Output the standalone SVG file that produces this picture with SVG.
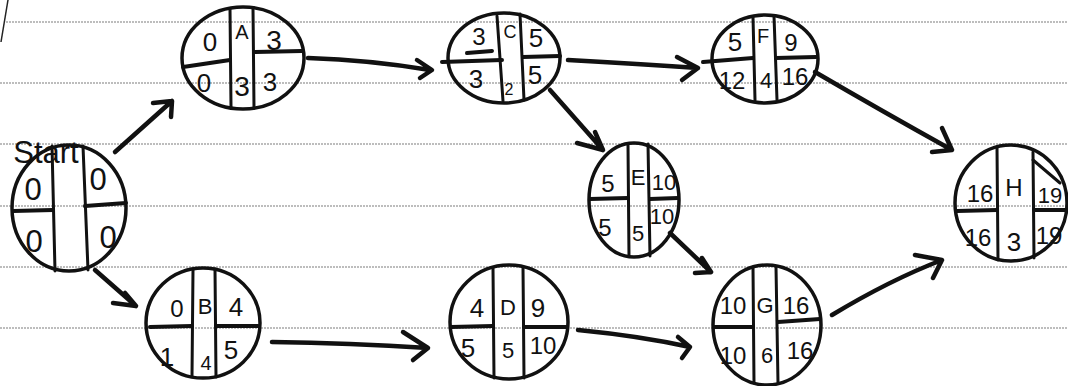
<svg xmlns="http://www.w3.org/2000/svg" width="1068" height="386" viewBox="0 0 1068 386">
<style>
.rule{stroke:#a8a8a8;stroke-width:1.6;stroke-dasharray:2 1}
.nd{fill:none;stroke:#111;stroke-width:3.5}
.dv{stroke:#111;stroke-width:3;stroke-linecap:round;fill:none}
.hz{stroke:#111;stroke-width:4;stroke-linecap:round}
.t{font-family:"Liberation Sans",Arial,sans-serif;fill:#111;text-anchor:middle;dominant-baseline:central}
.ar{fill:none;stroke:#111;stroke-width:4.5;stroke-linecap:round;stroke-linejoin:round}
</style>
<rect width="1068" height="386" fill="#fff"/>
<g id="paper">
<line class="rule" x1="6" y1="22" x2="1068" y2="22"/>
<line class="rule" x1="0" y1="83" x2="1068" y2="83"/>
<line class="rule" x1="0" y1="144" x2="1068" y2="144"/>
<line class="rule" x1="0" y1="206" x2="1068" y2="206"/>
<line class="rule" x1="0" y1="267" x2="1068" y2="267"/>
<line class="rule" x1="0" y1="328" x2="1068" y2="328"/>
<line x1="8" y1="0" x2="1" y2="42" stroke="#222" stroke-width="1.5"/>
</g>
<g id="connectors">
<path class="ar" d="M115,152 L172,101 M153,103 L172,101 L171,117"/>
<path class="ar" d="M95,270 L136,306 M113,303 L136,306 L125,293"/>
<path class="ar" d="M308,58 Q370,60 430,70 M417,60 L432,70 L420,78"/>
<path class="ar" d="M568,60 Q640,64 698,68 M677,57 L698,68 L682,80"/>
<path class="ar" d="M550,90 L603,150 M595,132 L603,150 L577,143"/>
<path class="ar" d="M815,72 Q880,110 952,150 M942,128 L952,150 L932,152"/>
<path class="ar" d="M670,233 L711,272 M702,258 L711,272 L695,273"/>
<path class="ar" d="M272,342 Q350,343 428,348 M403,332 L428,348 L413,360"/>
<path class="ar" d="M578,330 Q640,336 690,347 M678,337 L690,347 L682,358"/>
<path class="ar" d="M832,315 Q890,280 942,260 M915,255 L942,260 L933,278"/>
</g>
<g id="label-start">
<text class="t" x="46" y="152" font-size="31">Start</text>
</g>
<g id="node-start">
<ellipse class="nd" cx="69" cy="208" rx="57" ry="63"/>
<line class="dv" x1="52" y1="146" x2="55" y2="271"/>
<line class="dv" x1="83" y1="146" x2="88" y2="270"/>
<line class="hz" x1="13" y1="211" x2="53" y2="210"/>
<line class="hz" x1="85" y1="206" x2="126" y2="203"/>
<text class="t" x="33" y="189" font-size="31">0</text>
<text class="t" x="98" y="179" font-size="31">0</text>
<text class="t" x="34" y="241" font-size="31">0</text>
<text class="t" x="108" y="237" font-size="31">0</text>
</g>
<g id="node-A">
<ellipse class="nd" cx="243" cy="58" rx="61" ry="51"/>
<line class="dv" x1="230" y1="9" x2="231" y2="107"/>
<line class="dv" x1="253" y1="8" x2="254" y2="108"/>
<line class="hz" x1="183" y1="67" x2="230" y2="60"/>
<line class="hz" x1="255" y1="52" x2="302" y2="51"/>
<text class="t" x="210" y="42" font-size="26">0</text>
<text class="t" x="242" y="32" font-size="20">A</text>
<text class="t" x="274" y="40" font-size="28">3</text>
<text class="t" x="204" y="83" font-size="26">0</text>
<text class="t" x="242" y="86" font-size="28">3</text>
<text class="t" x="270" y="82" font-size="26">3</text>
</g>
<g id="node-B">
<ellipse class="nd" cx="203" cy="323" rx="57" ry="55"/>
<line class="dv" x1="193" y1="270" x2="192" y2="376"/>
<line class="dv" x1="215" y1="269" x2="216" y2="377"/>
<line class="hz" x1="150" y1="327" x2="192" y2="326"/>
<line class="hz" x1="216" y1="326" x2="258" y2="326"/>
<text class="t" x="177" y="308" font-size="24">0</text>
<text class="t" x="205" y="306" font-size="22">B</text>
<text class="t" x="236" y="307" font-size="26">4</text>
<text class="t" x="167" y="357" font-size="26">1</text>
<text class="t" x="206" y="363" font-size="20">4</text>
<text class="t" x="231" y="350" font-size="26">5</text>
</g>
<g id="node-C">
<ellipse class="nd" cx="504" cy="58" rx="56" ry="45"/>
<line class="dv" x1="497" y1="16" x2="503" y2="101"/>
<line class="dv" x1="520" y1="14" x2="524" y2="100"/>
<line class="hz" x1="442" y1="62" x2="502" y2="60"/>
<line class="hz" x1="523" y1="57" x2="560" y2="56"/>
<line class="hz" x1="467" y1="53" x2="492" y2="51"/>
<text class="t" x="479" y="36" font-size="24">3</text>
<text class="t" x="510" y="32" font-size="18">C</text>
<text class="t" x="536" y="38" font-size="26">5</text>
<text class="t" x="476" y="79" font-size="26">3</text>
<text class="t" x="509" y="89" font-size="16">2</text>
<text class="t" x="535" y="75" font-size="26">5</text>
</g>
<g id="node-F">
<ellipse class="nd" cx="765" cy="59" rx="53" ry="44"/>
<line class="dv" x1="753" y1="17" x2="755" y2="100"/>
<line class="dv" x1="774" y1="16" x2="777" y2="100"/>
<line class="hz" x1="703" y1="62" x2="753" y2="58"/>
<line class="hz" x1="776" y1="58" x2="816" y2="57"/>
<text class="t" x="735" y="42" font-size="26">5</text>
<text class="t" x="763" y="36" font-size="20">F</text>
<text class="t" x="791" y="42" font-size="24">9</text>
<text class="t" x="732" y="80" font-size="24">12</text>
<text class="t" x="766" y="80" font-size="22">4</text>
<text class="t" x="795" y="76" font-size="24">16</text>
</g>
<g id="node-E">
<ellipse class="nd" cx="634" cy="200" rx="45" ry="57"/>
<line class="dv" x1="628" y1="145" x2="629" y2="256"/>
<line class="dv" x1="648" y1="144" x2="650" y2="256"/>
<line class="hz" x1="590" y1="199" x2="628" y2="198"/>
<line class="hz" x1="650" y1="199" x2="678" y2="198"/>
<text class="t" x="608" y="183" font-size="24">5</text>
<text class="t" x="638" y="177" font-size="22">E</text>
<text class="t" x="664" y="182" font-size="22">10</text>
<text class="t" x="605" y="227" font-size="24">5</text>
<text class="t" x="638" y="233" font-size="22">5</text>
<text class="t" x="662" y="216" font-size="22">10</text>
</g>
<g id="node-D">
<ellipse class="nd" cx="509" cy="322" rx="59" ry="57"/>
<line class="dv" x1="493" y1="268" x2="494" y2="378"/>
<line class="dv" x1="523" y1="267" x2="524" y2="378"/>
<line class="hz" x1="451" y1="327" x2="493" y2="326"/>
<line class="hz" x1="524" y1="327" x2="567" y2="327"/>
<text class="t" x="477" y="308" font-size="26">4</text>
<text class="t" x="508" y="307" font-size="22">D</text>
<text class="t" x="538" y="308" font-size="26">9</text>
<text class="t" x="468" y="348" font-size="26">5</text>
<text class="t" x="508" y="350" font-size="22">5</text>
<text class="t" x="543" y="345" font-size="24">10</text>
</g>
<g id="node-G">
<ellipse class="nd" cx="767" cy="325" rx="54" ry="60"/>
<line class="dv" x1="753" y1="267" x2="754" y2="383"/>
<line class="dv" x1="776" y1="267" x2="778" y2="383"/>
<line class="hz" x1="714" y1="327" x2="753" y2="327"/>
<line class="hz" x1="778" y1="322" x2="820" y2="319"/>
<text class="t" x="733" y="305" font-size="24">10</text>
<text class="t" x="765" y="305" font-size="22">G</text>
<text class="t" x="796" y="305" font-size="24">16</text>
<text class="t" x="733" y="355" font-size="24">10</text>
<text class="t" x="767" y="355" font-size="22">6</text>
<text class="t" x="800" y="350" font-size="24">16</text>
</g>
<g id="node-H">
<ellipse class="nd" cx="1011" cy="203" rx="56" ry="58"/>
<line class="dv" x1="997" y1="147" x2="998" y2="260"/>
<line class="dv" x1="1033" y1="152" x2="1034" y2="258"/>
<line class="dv" x1="1033" y1="160" x2="1060" y2="183"/>
<line class="hz" x1="957" y1="211" x2="997" y2="210"/>
<line class="hz" x1="1034" y1="210" x2="1066" y2="210"/>
<text class="t" x="980" y="193" font-size="24">16</text>
<text class="t" x="1014" y="187" font-size="24">H</text>
<text class="t" x="1050" y="195" font-size="22">19</text>
<text class="t" x="978" y="237" font-size="24">16</text>
<text class="t" x="1014" y="242" font-size="26">3</text>
<text class="t" x="1049" y="235" font-size="24">19</text>
</g>
</svg>
